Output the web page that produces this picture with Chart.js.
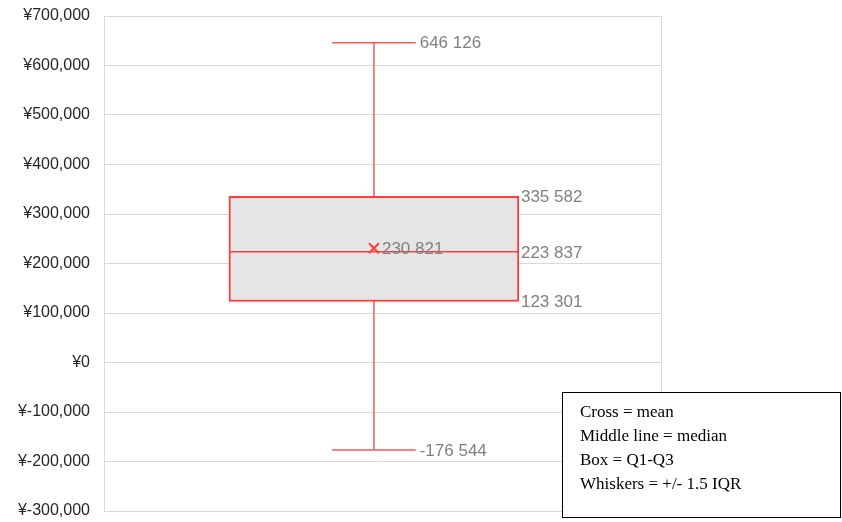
<!DOCTYPE html>
<html>
<head>
<meta charset="utf-8">
<script src="https://cdn.jsdelivr.net/npm/chart.js@4"></script>
<style>
  body { margin: 0; background: #fff; }
  #wrap { width: 842px; height: 522px; }
</style>
</head>
<body>
<div id="wrap"><canvas id="myChart" width="842" height="522"></canvas></div>
<script>
// box plot values
var categories = [0];
var whiskerLow = [-176544];
var q1 = [123301];
var median = [223837];
var q3 = [335582];
var whiskerHigh = [646126];
var mean = [230821];
var legendLines = ['Cross = mean', 'Middle line = median', 'Box = Q1-Q3', 'Whiskers = +/- 1.5 IQR'];

var red = '#ff3c3c';
var labelColor = '#808080';
var labelFont = '17px "Liberation Sans", Arial, sans-serif';

function spaced(v) {
    var s = Math.abs(v).toString().replace(/\B(?=(\d{3})+(?!\d))/g, ' ');
    return (v < 0 ? '-' : '') + s;
}

var boxExtras = {
    id: 'boxExtras',
    beforeDatasetsDraw: function(chart) {
        var ctx = chart.ctx, y = chart.scales.y;
        var bar = chart.getDatasetMeta(0).data[0];
        var a = chart.chartArea;
        // plot border
        ctx.save();
        ctx.strokeStyle = '#d9d9d9';
        ctx.lineWidth = 1;
        ctx.strokeRect(a.left + 0.5, a.top + 0.5, a.right - a.left, a.bottom - a.top);
        // whiskers
        var capHalf = (a.right - a.left) * 0.075;
        ctx.strokeStyle = '#f25a5a';
        ctx.lineWidth = 1.5;
        ctx.beginPath();
        ctx.moveTo(bar.x, y.getPixelForValue(whiskerHigh[0]));
        ctx.lineTo(bar.x, y.getPixelForValue(whiskerLow[0]));
        [whiskerHigh[0], whiskerLow[0]].forEach(function(v) {
            var py = y.getPixelForValue(v);
            ctx.moveTo(bar.x - capHalf, py);
            ctx.lineTo(bar.x + capHalf, py);
        });
        ctx.stroke();
        ctx.restore();
    },
    afterDatasetsDraw: function(chart) {
        var ctx = chart.ctx, y = chart.scales.y;
        var bar = chart.getDatasetMeta(0).data[0];
        var a = chart.chartArea;
        var capHalf = (a.right - a.left) * 0.075;
        var left = bar.x - bar.width / 2, right = bar.x + bar.width / 2;
        ctx.save();
        ctx.strokeStyle = red;
        ctx.lineWidth = 1.5;
        ctx.beginPath();
        var my = y.getPixelForValue(median[0]);
        ctx.moveTo(left, my);
        ctx.lineTo(right, my);
        ctx.stroke();

        ctx.fillStyle = labelColor;
        ctx.font = labelFont;
        ctx.textBaseline = 'middle';
        ctx.textAlign = 'left';
        ctx.fillText(spaced(whiskerHigh[0]), bar.x + capHalf + 4, y.getPixelForValue(whiskerHigh[0]) + 1);
        ctx.fillText(spaced(whiskerLow[0]), bar.x + capHalf + 4, y.getPixelForValue(whiskerLow[0]) + 1);
        ctx.fillText(spaced(q3[0]), right + 2, y.getPixelForValue(q3[0]) + 1);
        ctx.fillText(spaced(median[0]), right + 2, y.getPixelForValue(median[0]) + 2);
        ctx.fillText(spaced(q1[0]), right + 2, y.getPixelForValue(q1[0]) + 1);
        ctx.fillText(spaced(mean[0]), bar.x + 8, y.getPixelForValue(mean[0]) + 1);

        // note box
        var bx = 562, by = 392, bw = 279, bh = 126;
        ctx.fillStyle = '#fff';
        ctx.fillRect(bx, by, bw, bh);
        ctx.strokeStyle = '#000';
        ctx.lineWidth = 1;
        ctx.strokeRect(bx + 0.5, by + 0.5, bw - 1, bh - 1);
        ctx.fillStyle = '#000';
        ctx.font = '17px "Liberation Serif", "Times New Roman", serif';
        legendLines.forEach(function(t, i) {
            ctx.fillText(t, bx + 18, by + 21 + i * 24);
        });
        ctx.restore();
    }
};

var ctx = document.getElementById('myChart').getContext('2d');
var myChart = new Chart(ctx, {
    type: 'bar',
    data: {
        datasets: [{
            type: 'bar',
            order: 2,
            data: categories.map(function(c, i) { return { x: c, y: [q1[i], q3[i]] }; }),
            backgroundColor: '#e6e5e5',
            borderColor: red,
            borderWidth: 2,
            borderSkipped: false,
            barThickness: 290
        }, {
            type: 'line',
            order: 1,
            data: categories.map(function(c, i) { return { x: c, y: mean[i] }; }),
            showLine: false,
            pointStyle: 'crossRot',
            pointRadius: 7,
            pointBorderColor: red,
            pointBorderWidth: 2
        }]
    },
    options: {
        responsive: false,
        animation: false,
        layout: { padding: { left: 0, top: 16, right: 181, bottom: 11 } },
        plugins: {
            legend: { display: false },
            tooltip: { enabled: false }
        },
        scales: {
            x: { type: 'linear', display: false, min: -1, max: 1.08 },
            y: {
                min: -300000,
                max: 700000,
                afterFit: function(scale) {
                    scale.width = 104;
                    scale.paddingTop = 0;
                    scale.paddingBottom = 0;
                },
                border: { display: false },
                grid: { color: '#d9d9d9', drawTicks: false },
                ticks: {
                    stepSize: 100000,
                    padding: 14,
                    color: '#262626',
                    font: { family: '"Liberation Sans", Arial, sans-serif', size: 16 },
                    callback: function(v) { return '¥' + v.toLocaleString('en-US'); }
                }
            }
        }
    },
    plugins: [boxExtras]
});
</script>
</body>
</html>
